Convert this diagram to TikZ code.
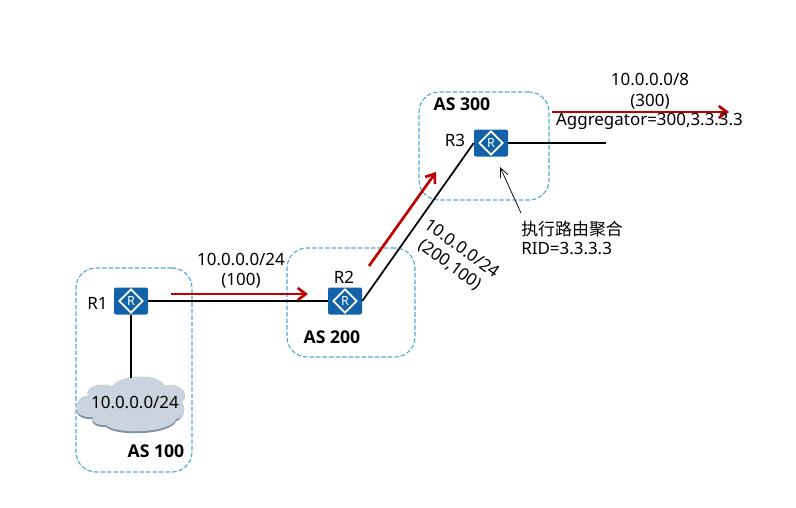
\documentclass[tikz,border=0pt]{standalone}
\usepackage{fontspec}
\setmainfont{Noto Sans}
\newfontfamily\cjk{Noto Sans CJK SC}
\newfontfamily\asfont[BoldFont={Open Sans Bold}]{Open Sans}
\usetikzlibrary{arrows.meta,shapes.geometric}
\definecolor{rblue}{HTML}{1262AA}
\definecolor{asblue}{HTML}{4FA9DA}
\definecolor{rred}{HTML}{C00000}
\definecolor{cloudfill}{HTML}{CBD3DF}
\definecolor{cloudedge}{HTML}{8090AA}
\tikzset{
  router/.style={fill=rblue,rounded corners=1.5,minimum width=25.5pt,minimum height=20.25pt,inner sep=0pt,text=white},
  rdiamond/.style={diamond,draw=white,line width=1.3pt,minimum width=18pt,minimum height=18pt,inner sep=0pt,text=white,font=\fontsize{9.5}{9.5}\selectfont},
  asbox/.style={draw=asblue,dash pattern=on 3.4pt off 1.5pt,line width=0.85pt,rounded corners=15pt,inner sep=0pt},
  link/.style={draw=black,line width=1.7pt},
  thinlink/.style={draw=black,line width=1.3pt},
  redarrow/.style={draw=rred,line width=2pt,-{Straight Barb[length=6pt,width=9pt,line width=2pt]}},
  note/.style={draw=black,line width=0.55pt,-{Straight Barb[length=7pt,width=6pt,line width=0.55pt]}},
  txt/.style={inner sep=0pt,font=\fontsize{12.7}{15}\selectfont,text=black,align=center},
  astxt/.style={inner sep=0pt,font=\asfont\fontsize{13.2}{15}\selectfont\bfseries,text=black}
}
\begin{document}
\begin{tikzpicture}[x=0.75pt,y=-0.75pt]
\useasboundingbox (0,0) rectangle (796,507);
% AS boxes
\node[asbox,minimum width=87pt,minimum height=153pt] (as100) at (134,370) {};
\node[asbox,minimum width=96pt,minimum height=81.75pt] (as200) at (351,302.5) {};
\node[asbox,minimum width=97.5pt,minimum height=81pt] (as300) at (484,146) {};
% Cloud
\fill[cloudedge] (77,410)
  .. controls (76,400) and (82,396) .. (88,396)
  .. controls (84,386) and (104,382) .. (112,387)
  .. controls (120,374) and (158,373) .. (165,386)
  .. controls (180,382) and (190,394) .. (182,402)
  .. controls (188,412) and (180,421) .. (176,421)
  .. controls (172,435) and (116,437) .. (106,427)
  .. controls (96,428) and (90,422) .. (93,419)
  .. controls (84,420) and (76,416) .. (77,410) -- cycle;
\fill[cloudfill] (77,408)
  .. controls (76,400) and (82,396) .. (88,396)
  .. controls (84,386) and (104,382) .. (112,387)
  .. controls (120,374) and (158,373) .. (165,386)
  .. controls (180,382) and (190,394) .. (182,402)
  .. controls (188,412) and (180,420) .. (176,419)
  .. controls (172,433) and (116,435) .. (106,425)
  .. controls (96,426) and (90,420) .. (93,417)
  .. controls (84,418) and (76,414) .. (77,408) -- cycle;
\coordinate (cloudtop) at (131,378);
% Routers
\node[router] (r1) at (131,301) {};
\node[router] (r2) at (345,301) {};
\node[router] (r3) at (491,143) {};
\node[rdiamond] at (r1) {R};
\node[rdiamond] at (r2) {R};
\node[rdiamond] at (r3) {R};
% Links
\coordinate (r3end) at (606,143);
\draw[link] (r1.east) -- (r2.west);
\draw[link] (r1.south) -- (cloudtop);
\draw[thinlink] (r2.east) -- (r3.west);
\draw[link] (r3.east) -- (r3end);
% Red arrows
\coordinate (a1s) at (171,294);
\coordinate (a1e) at (308,294);
\coordinate (a2s) at (369,266);
\coordinate (a2e) at (436,172);
\coordinate (a3s) at (552,112);
\coordinate (a3e) at (729,112);
\draw[redarrow] (a1s) -- (a1e);
\draw[redarrow] (a2s) -- (a2e);
\draw[redarrow] (a3s) -- (a3e);
% Texts
\node[txt] (lr1) at (97.5,303) {R1};
\node[txt] (lr2) at (344,277) {R2};
\node[txt] (lr3) at (455,140) {R3};
\node[astxt] (t100) at (156,451) {AS 100};
\node[astxt] (t200) at (332,337) {AS 200};
\node[astxt] (t300) at (462,104) {AS 300};
\node[txt] (cl) at (135,402) {10.0.0.0/24};
\node[txt] (l1) at (241,271) {10.0.0.0/24\\(100)};
\node[txt,rotate=-36] (l2) at (456,257) {10.0.0.0/24\\(200,100)};
\node[txt,font=\fontsize{12.7}{16.2}\selectfont] (l3) at (650,91) {10.0.0.0/8\\(300)};
\node[txt] (l4) at (649.5,121) {Aggregator=300,3.3.3.3};
\node[txt,align=left,anchor=north west,font=\fontsize{12.7}{14.6}\selectfont] (l5) at (521,220.5) {{\cjk 执行路由聚合}\\RID=3.3.3.3};
% Note arrow
\coordinate (notetip) at (500,167);
\coordinate (notefrom) at (521,213);
\draw[note] (notefrom) -- (notetip);
\end{tikzpicture}
\end{document}
